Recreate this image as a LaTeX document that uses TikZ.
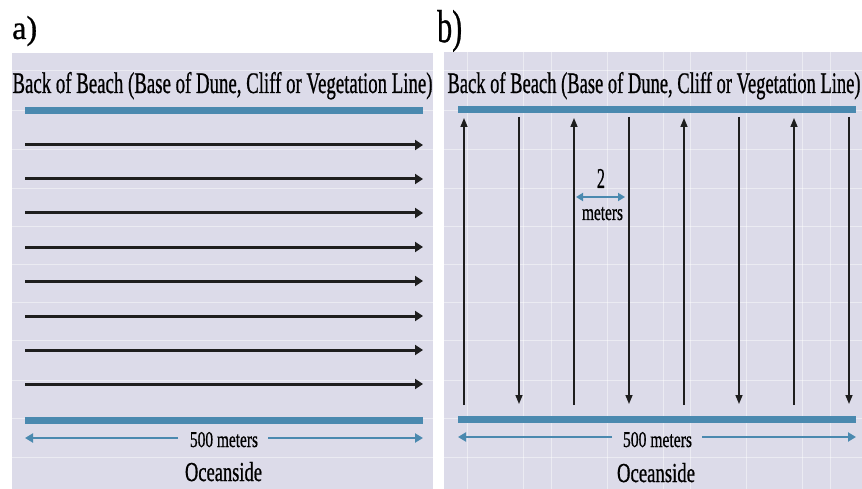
\documentclass[tikz,border=0pt]{standalone}
\usepackage{fontspec}
\setmainfont[FakeBold=0.9]{Liberation Serif}
\usetikzlibrary{arrows.meta}
\definecolor{panelbg}{HTML}{DCDBE9}
\definecolor{beachblue}{HTML}{4A89AF}
\definecolor{walk}{HTML}{1E1E1E}
% squeeze a text into a given width and height above the baseline
\newcommand{\fitto}[3]{\resizebox{#1}{#2}{#3}}
\tikzset{
  panel/.style={fill=panelbg, draw=none},
  gridline/.style={white, line width=0.8pt, opacity=0.45},
  shore/.style={beachblue, line width=7pt},
  transect/.style={walk, line width=3pt, -{Triangle[length=8pt,width=10pt]}},
  lane/.style={walk, line width=1.5pt, -{Triangle[length=9pt,width=7pt]}},
  measure/.style={beachblue, line width=2.5pt, -{Triangle[length=8pt,width=9pt]}},
  measuretwo/.style={beachblue, line width=2.5pt, {Triangle[length=7pt,width=8pt]}-{Triangle[length=7pt,width=8pt]}},
  txt/.style={inner sep=0pt, anchor=base, text=black},
}
\begin{document}
\begin{tikzpicture}[x=1pt, y=-1pt]
\useasboundingbox (0,0) rectangle (862,489);

% ---------- panel backgrounds ----------
\fill[panel] (12,53) rectangle (433,489);
\fill[panel] (444,52) rectangle (862,489);

% faint grid on the panels
\foreach \y in {70,110,149,188,226,264,302,340,380,418,457}
  \draw[gridline] (12,\y) -- (433,\y);
\foreach \y in {70,110,149,188,226,264,302,340,380,418,457}
  \draw[gridline] (444,\y) -- (862,\y);
\foreach \x in {467,523,551,607,663,690,746,802,830}
  \draw[gridline] (\x,52) -- (\x,489);

% ---------- panel a: shore-parallel transects ----------
\node[txt, anchor=base west] (la) at (12,39) {\fitto{25pt}{23pt}{a)}};
\node[txt] (backA) at (222.5,93) {\fitto{420pt}{21pt}{Back of Beach (Base of Dune, Cliff or Vegetation Line)}};
\coordinate (backAL) at (25,110.5);
\coordinate (backAR) at (423,110.5);
\draw[shore] (backAL) -- (backAR);

\foreach \i/\y in {1/145,2/179,3/213,4/247,5/281,6/316,7/350,8/384} {
  \coordinate (ta\i s) at (25,\y);
  \coordinate (ta\i e) at (423,\y);
  \draw[transect] (ta\i s) -- (ta\i e);
}

\coordinate (seaAL) at (25,420.5);
\coordinate (seaAR) at (423,420.5);
\draw[shore] (seaAL) -- (seaAR);

\node[txt] (distA) at (224,447) {\fitto{68pt}{15pt}{500 meters}};
\coordinate (distAL) at (25,438);
\coordinate (distAR) at (423,438);
\coordinate (gapAL) at (178,438);
\coordinate (gapAR) at (268,438);
\draw[measure] (gapAL) -- (distAL);
\draw[measure] (gapAR) -- (distAR);

\node[txt] (oceanA) at (223.5,481) {\fitto{77pt}{19pt}{Oceanside}};

% ---------- panel b: shore-perpendicular lanes ----------
\node[txt, anchor=base west] (lb) at (437,42) {\fitto{25pt}{32pt}{b)}};
\node[txt] (backB) at (654,93) {\fitto{413pt}{21pt}{Back of Beach (Base of Dune, Cliff or Vegetation Line)}};
\coordinate (backBL) at (458,109.5);
\coordinate (backBR) at (856,109.5);
\draw[shore] (backBL) -- (backBR);

\foreach \i/\x in {1/464,3/574,5/684,7/794} {
  \coordinate (lb\i s) at (\x,405);
  \coordinate (lb\i e) at (\x,118);
  \draw[lane] (lb\i s) -- (lb\i e);
}
\foreach \i/\x in {2/519,4/629,6/739,8/849} {
  \coordinate (lb\i s) at (\x,117);
  \coordinate (lb\i e) at (\x,404);
  \draw[lane] (lb\i s) -- (lb\i e);
}

% lane spacing
\node[txt] (two) at (601,188) {\fitto{8pt}{19pt}{2}};
\node[txt] (twom) at (602.5,220) {\fitto{41pt}{13pt}{meters}};
\coordinate (spL) at (576,197);
\coordinate (spR) at (625,197);
\draw[measuretwo] (spL) -- (spR);

\coordinate (seaBL) at (458,419);
\coordinate (seaBR) at (856,419);
\draw[shore] (seaBL) -- (seaBR);

\node[txt] (distB) at (657.5,447) {\fitto{69pt}{15pt}{500 meters}};
\coordinate (distBL) at (458,437);
\coordinate (distBR) at (856,437);
\coordinate (gapBL) at (612,437);
\coordinate (gapBR) at (702,437);
\draw[measure] (gapBL) -- (distBL);
\draw[measure] (gapBR) -- (distBR);

\node[txt] (oceanB) at (656,482) {\fitto{78pt}{19pt}{Oceanside}};
\end{tikzpicture}
\end{document}
